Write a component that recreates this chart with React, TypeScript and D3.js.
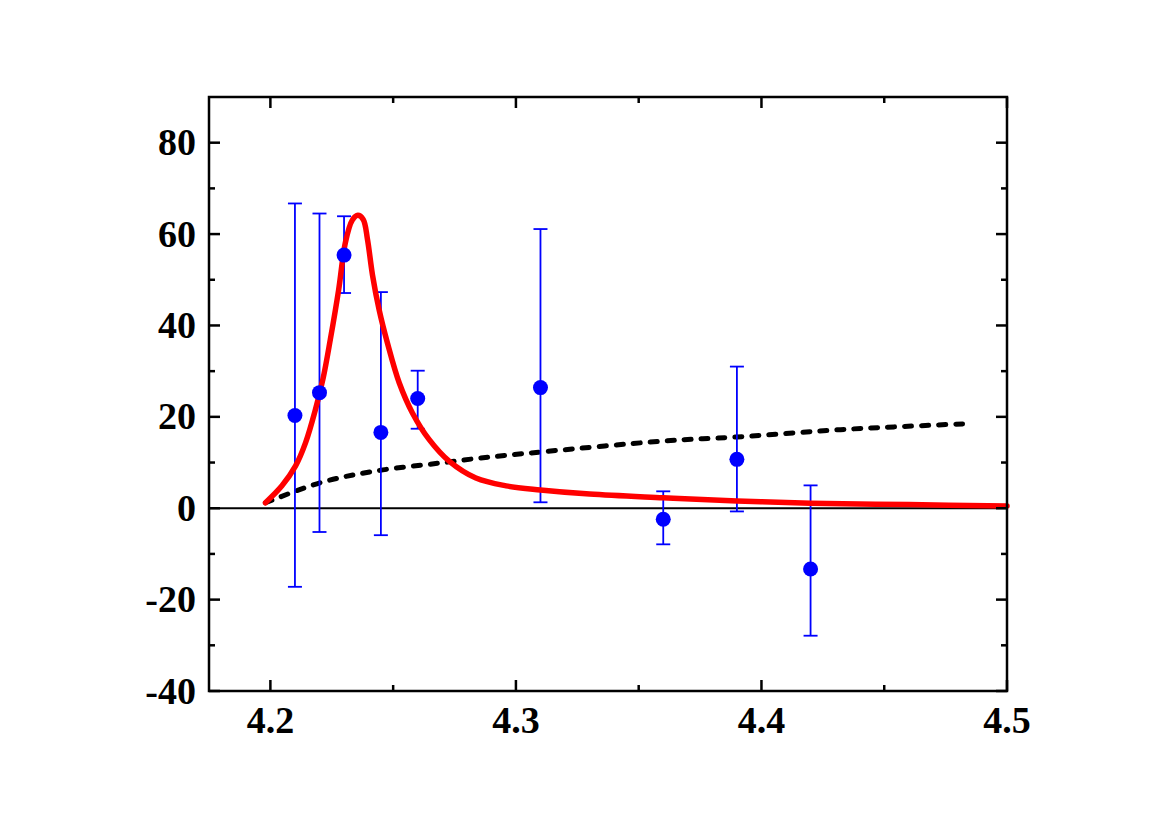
import React, { useEffect, useRef } from 'react'
import * as d3 from 'd3'

// measured points with asymmetric errors
const pointX = [4.21, 4.22, 4.23, 4.245, 4.26, 4.31, 4.36, 4.39, 4.42]
const pointY = [20.3, 25.3, 55.4, 16.6, 24.0, 26.4, -2.4, 10.7, -13.3]
const errHigh = [66.7, 64.5, 63.9, 47.3, 30.1, 61.1, 3.7, 31.0, 5.0]
const errLow = [-17.2, -5.2, 47.1, -5.9, 17.4, 1.3, -7.9, -0.7, -27.9]

// red fit curve
const fitX = [4.198, 4.2047, 4.2102, 4.2143, 4.2183, 4.2215, 4.2244, 4.2278, 4.2305, 4.2333, 4.2356, 4.2378, 4.2395, 4.2416, 4.2443, 4.2477, 4.2525, 4.2579, 4.2647, 4.2728, 4.2837, 4.296, 4.31, 4.33, 4.36, 4.39, 4.42, 4.46, 4.5]
const fitY = [1.2, 4.9, 9.2, 14.3, 21.5, 28.5, 36.9, 47.8, 58.0, 63.0, 64.1, 63.2, 59.0, 51.0, 43.4, 36.1, 27.4, 20.8, 15.0, 10.3, 6.6, 4.9, 4.0, 3.1, 2.3, 1.6, 1.1, 0.8, 0.5]

// black dashed background curve
const bgX = [4.198, 4.2204, 4.2423, 4.2692, 4.2857, 4.31, 4.36, 4.39, 4.4322, 4.454, 4.4839]
const bgY = [1.2, 5.6, 8.1, 9.9, 11.0, 12.3, 14.7, 15.6, 17.2, 17.8, 18.5]

const xMajor = [4.2, 4.3, 4.4, 4.5]
const xMinor = [4.25, 4.35, 4.45]
const yMajor = [-40, -20, 0, 20, 40, 60, 80]
const yMinor = [-30, -10, 10, 30, 50, 70]

const width = 1170
const height = 828
const margin = { left: 209, right: 163, top: 97, bottom: 137 }
const font = '"Liberation Serif", "Times New Roman", serif'

export default function App() {
	const ref = useRef(null)

	useEffect(() => {
		const svg = d3.select(ref.current)
		svg.selectAll('*').remove()

		const x = d3.scaleLinear().domain([4.175, 4.5]).range([margin.left, width - margin.right])
		const y = d3.scaleLinear().domain([-40, 90]).range([height - margin.bottom, margin.top])

		const g = svg.append('g')

		// zero line
		g.append('line')
			.attr('x1', x.range()[0]).attr('x2', x.range()[1])
			.attr('y1', y(0)).attr('y2', y(0))
			.attr('stroke', 'black').attr('stroke-width', 2)

		// dashed curve
		const bg = bgX.map((v, i) => [v, bgY[i]])
		g.append('path')
			.datum(bg)
			.attr('d', d3.line().x(d => x(d[0])).y(d => y(d[1])).curve(d3.curveCatmullRom))
			.attr('fill', 'none')
			.attr('stroke', 'black')
			.attr('stroke-width', 5)
			.attr('stroke-dasharray', '7,10')
			.attr('stroke-linecap', 'round')

		// error bars
		const pts = pointX.map((v, i) => ({ x: v, y: pointY[i], hi: errHigh[i], lo: errLow[i] }))
		const eb = g.append('g').attr('stroke', '#0000ff').attr('stroke-width', 1.8)
		pts.forEach(p => {
			eb.append('line').attr('x1', x(p.x)).attr('x2', x(p.x)).attr('y1', y(p.hi)).attr('y2', y(p.lo))
			eb.append('line').attr('x1', x(p.x) - 7).attr('x2', x(p.x) + 7).attr('y1', y(p.hi)).attr('y2', y(p.hi))
			eb.append('line').attr('x1', x(p.x) - 7).attr('x2', x(p.x) + 7).attr('y1', y(p.lo)).attr('y2', y(p.lo))
		})

		// fit curve
		const fit = fitX.map((v, i) => [v, fitY[i]])
		g.append('path')
			.datum(fit)
			.attr('d', d3.line().x(d => x(d[0])).y(d => y(d[1])).curve(d3.curveCatmullRom))
			.attr('fill', 'none')
			.attr('stroke', '#ff0000')
			.attr('stroke-width', 5.5)
			.attr('stroke-linecap', 'round')
			.attr('stroke-linejoin', 'round')

		// points
		g.selectAll('.pt')
			.data(pts)
			.enter()
			.append('circle')
			.attr('class', 'pt')
			.attr('cx', d => x(d.x))
			.attr('cy', d => y(d.y))
			.attr('r', 7.5)
			.attr('fill', '#0000ff')

		// frame
		const [x0, x1] = x.range()
		const [y0, y1] = y.range()
		g.append('rect')
			.attr('x', x0).attr('y', y1)
			.attr('width', x1 - x0).attr('height', y0 - y1)
			.attr('fill', 'none').attr('stroke', 'black').attr('stroke-width', 2.5)

		// ticks, pointing inward on all four sides
		const ticks = g.append('g').attr('stroke', 'black').attr('stroke-width', 2.5)
		const tickX = (vals, len) => vals.forEach(v => {
			ticks.append('line').attr('x1', x(v)).attr('x2', x(v)).attr('y1', y0).attr('y2', y0 - len)
			ticks.append('line').attr('x1', x(v)).attr('x2', x(v)).attr('y1', y1).attr('y2', y1 + len)
		})
		const tickY = (vals, len) => vals.forEach(v => {
			ticks.append('line').attr('y1', y(v)).attr('y2', y(v)).attr('x1', x0).attr('x2', x0 + len)
			ticks.append('line').attr('y1', y(v)).attr('y2', y(v)).attr('x1', x1).attr('x2', x1 - len)
		})
		tickX(xMajor, 11)
		tickX(xMinor, 6)
		tickY(yMajor, 11)
		tickY(yMinor, 6)

		// labels
		g.selectAll('.ylab')
			.data(yMajor)
			.enter()
			.append('text')
			.attr('class', 'ylab')
			.attr('x', x0 - 13)
			.attr('y', d => y(d) + 12.5)
			.attr('text-anchor', 'end')
			.text(d => d)
			.style('font-family', font)
			.style('font-weight', 'bold')
			.style('font-size', '38px')

		g.selectAll('.xlab')
			.data(xMajor)
			.enter()
			.append('text')
			.attr('class', 'xlab')
			.attr('x', d => x(d))
			.attr('y', y0 + 42)
			.attr('text-anchor', 'middle')
			.text(d => d.toFixed(1))
			.style('font-family', font)
			.style('font-weight', 'bold')
			.style('font-size', '38px')
	}, [])

	return (
		<svg
			ref={ref}
			width={width}
			height={height}
			style={{ position: 'absolute', left: 0, top: 0, background: 'white' }}
		></svg>
	)
}
